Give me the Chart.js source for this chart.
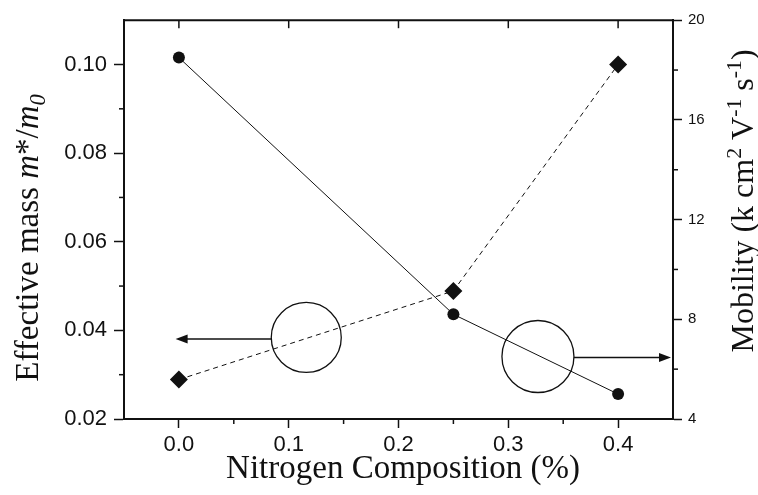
<!DOCTYPE html>
<html>
<head>
<meta charset="utf-8">
<script src="https://cdn.jsdelivr.net/npm/chart.js@4/dist/chart.umd.min.js"></script>
<style>
  html, body { margin: 0; padding: 0; background: #fff; }
  #wrap { width: 758px; height: 495px; position: relative; }
</style>
</head>
<body>
<div id="wrap"><canvas id="c" width="758" height="495"></canvas></div>
<script>
// ---- data ----
const nitrogen = [0.0, 0.25, 0.4];
const effectiveMass = [0.0289, 0.0489, 0.1000];
const mobility = [18.5, 8.2, 5.0];

// ---- tick values ----
const xTicks = [0.0, 0.1, 0.2, 0.3, 0.4];
const xMinorTicks = [0.05, 0.15, 0.25, 0.35];
const yLeftTicks = [0.02, 0.04, 0.06, 0.08, 0.10];
const yLeftMinorTicks = [0.03, 0.05, 0.07, 0.09];
const yRightTicks = [4, 8, 12, 16, 20];
const yRightMinorTicks = [6, 10, 14, 18];

// ---- text ----
const xTitle = 'Nitrogen Composition (%)';
const yLeftTitleParts = [
  { t: 'Effective mass ', s: 'normal' },
  { t: 'm', s: 'italic' },
  { t: '*/', s: 'normal' },
  { t: 'm', s: 'italic' },
  { t: '0', s: 'italic', sub: true }
];
const yRightTitleParts = [
  { t: 'Mobility (k cm', s: 'normal' },
  { t: '2', s: 'normal', sup: true },
  { t: ' V', s: 'normal' },
  { t: '-1', s: 'normal', sup: true },
  { t: ' s', s: 'normal' },
  { t: '-1', s: 'normal', sup: true },
  { t: ')', s: 'normal' }
];

const INK = '#111';
const SANS = '"Liberation Sans", Arial, sans-serif';
const SERIF = '"Liberation Serif", "Times New Roman", serif';

function fixTicks(values) {
  return function (scale) { scale.ticks = values.map(v => ({ value: v })); };
}

function drawRich(ctx, parts, size) {
  const segs = parts.map(p => {
    const fs = (p.sub || p.sup) ? size * 0.68 : size;
    const font = (p.s === 'italic' ? 'italic ' : '') + fs + 'px ' + SERIF;
    ctx.font = font;
    return { t: p.t, font, w: ctx.measureText(p.t).width,
             dy: p.sub ? size * 0.22 : (p.sup ? -size * 0.38 : 0) };
  });
  const total = segs.reduce((a, s) => a + s.w, 0);
  let x = -total / 2;
  ctx.textBaseline = 'alphabetic';
  ctx.textAlign = 'left';
  segs.forEach(s => {
    ctx.font = s.font;
    ctx.fillText(s.t, x, s.dy);
    x += s.w;
  });
}

const decorPlugin = {
  id: 'decor',
  afterDraw(chart) {
    const ctx = chart.ctx;
    const area = chart.chartArea;
    const xs = chart.scales.x, yl = chart.scales.y, yr = chart.scales.y2;
    ctx.save();
    ctx.strokeStyle = INK;
    ctx.fillStyle = INK;

    // top frame
    ctx.lineWidth = 2;
    ctx.beginPath();
    ctx.moveTo(area.left - 1, area.top);
    ctx.lineTo(area.right + 1, area.top);
    ctx.stroke();

    // inward ticks on top frame
    ctx.lineWidth = 1.5;
    xTicks.forEach(v => {
      const px = xs.getPixelForValue(v);
      ctx.beginPath(); ctx.moveTo(px, area.top); ctx.lineTo(px, area.top + 8); ctx.stroke();
    });
    // minor ticks (outward)
    xMinorTicks.forEach(v => {
      const px = xs.getPixelForValue(v);
      ctx.beginPath(); ctx.moveTo(px, area.bottom); ctx.lineTo(px, area.bottom + 5); ctx.stroke();
    });
    yLeftMinorTicks.forEach(v => {
      const py = yl.getPixelForValue(v);
      ctx.beginPath(); ctx.moveTo(area.left, py); ctx.lineTo(area.left - 5, py); ctx.stroke();
    });
    yRightMinorTicks.forEach(v => {
      const py = yr.getPixelForValue(v);
      ctx.beginPath(); ctx.moveTo(area.right, py); ctx.lineTo(area.right + 5, py); ctx.stroke();
    });

    // annotation circles with arrows
    ctx.lineWidth = 1.3;
    const c1x = xs.getPixelForValue(0.116), c1y = yl.getPixelForValue(0.0384), r1 = 35;
    ctx.beginPath(); ctx.arc(c1x, c1y, r1, 0, Math.PI * 2); ctx.stroke();
    const a1y = c1y + 1.5, a1end = xs.getPixelForValue(-0.003);
    ctx.lineWidth = 1.6;
    ctx.beginPath(); ctx.moveTo(c1x - r1, a1y); ctx.lineTo(a1end + 10, a1y); ctx.stroke();
    ctx.beginPath(); ctx.moveTo(a1end, a1y); ctx.lineTo(a1end + 12, a1y - 4.5); ctx.lineTo(a1end + 12, a1y + 4.5); ctx.closePath(); ctx.fill();

    ctx.lineWidth = 1.3;
    const c2x = xs.getPixelForValue(0.327), c2y = yl.getPixelForValue(0.0341), r2 = 36;
    ctx.beginPath(); ctx.arc(c2x, c2y, r2, 0, Math.PI * 2); ctx.stroke();
    const a2y = c2y + 1, a2end = area.right - 2;
    ctx.lineWidth = 1.6;
    ctx.beginPath(); ctx.moveTo(c2x + r2, a2y); ctx.lineTo(a2end - 10, a2y); ctx.stroke();
    ctx.beginPath(); ctx.moveTo(a2end, a2y); ctx.lineTo(a2end - 12, a2y - 4.5); ctx.lineTo(a2end - 12, a2y + 4.5); ctx.closePath(); ctx.fill();

    // axis titles
    ctx.fillStyle = INK;
    ctx.save();
    ctx.translate(403, 478);
    drawRich(ctx, [{ t: xTitle, s: 'normal' }], 33);
    ctx.restore();

    ctx.save();
    ctx.translate(38, 238);
    ctx.rotate(-Math.PI / 2);
    drawRich(ctx, yLeftTitleParts, 33);
    ctx.restore();

    ctx.save();
    ctx.translate(753, 201);
    ctx.rotate(-Math.PI / 2);
    drawRich(ctx, yRightTitleParts, 32);
    ctx.restore();

    ctx.restore();
  }
};

new Chart(document.getElementById('c'), {
  type: 'line',
  data: {
    datasets: [
      {
        label: 'Mobility',
        data: nitrogen.map((x, i) => ({ x, y: mobility[i] })),
        yAxisID: 'y2',
        borderColor: INK,
        backgroundColor: INK,
        borderWidth: 1,
        pointStyle: 'circle',
        pointRadius: 6,
        pointBorderWidth: 0,
        tension: 0
      },
      {
        label: 'Effective mass',
        data: nitrogen.map((x, i) => ({ x, y: effectiveMass[i] })),
        yAxisID: 'y',
        borderColor: INK,
        backgroundColor: INK,
        borderWidth: 1,
        borderDash: [5, 4],
        pointStyle: 'rectRot',
        pointRadius: 9,
        pointBorderWidth: 0,
        tension: 0
      }
    ]
  },
  options: {
    responsive: false,
    animation: false,
    events: [],
    layout: { padding: { top: 16, left: 0, right: 0, bottom: 0 } },
    plugins: { legend: { display: false }, tooltip: { enabled: false } },
    scales: {
      x: {
        type: 'linear',
        min: -0.05, max: 0.45,
        afterBuildTicks: fixTicks(xTicks),
        afterFit(s) { s.height = 76; },
        grid: { drawOnChartArea: false, drawTicks: true, tickLength: 9, tickWidth: 1.5, tickColor: INK },
        border: { display: true, color: INK, width: 2 },
        ticks: { color: INK, font: { family: SANS, size: 22 }, padding: 4, maxRotation: 0,
                 callback: v => Number(v).toFixed(1) }
      },
      y: {
        type: 'linear', position: 'left',
        min: 0.02, max: 0.11,
        afterBuildTicks: fixTicks(yLeftTicks),
        afterFit(s) { s.width = 124; },
        grid: { drawOnChartArea: false, drawTicks: true, tickLength: 10, tickWidth: 1.5, tickColor: INK },
        border: { display: true, color: INK, width: 2 },
        ticks: { color: INK, font: { family: SANS, size: 22 }, padding: 7,
                 callback: v => Number(v).toFixed(2) }
      },
      y2: {
        type: 'linear', position: 'right',
        min: 4, max: 20,
        afterBuildTicks: fixTicks(yRightTicks),
        afterFit(s) { s.width = 85; },
        grid: { drawOnChartArea: false, drawTicks: true, tickLength: 9, tickWidth: 1.5, tickColor: INK },
        border: { display: true, color: INK, width: 2 },
        ticks: { color: INK, font: { family: SANS, size: 15 }, padding: 6,
                 callback: v => String(v) }
      }
    }
  },
  plugins: [decorPlugin]
});
</script>
</body>
</html>
